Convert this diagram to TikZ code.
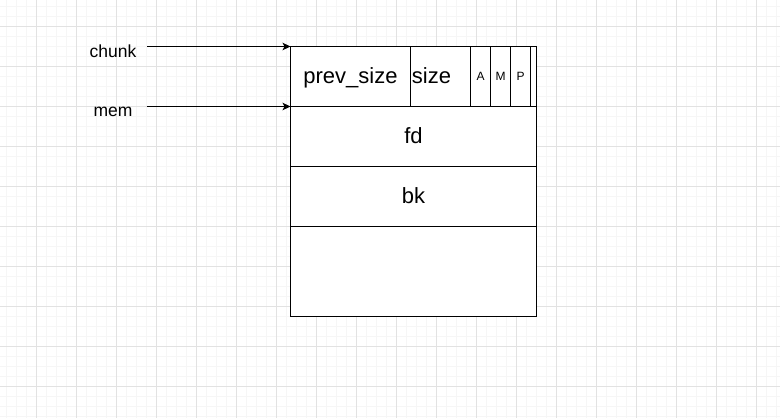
\documentclass[tikz,border=0pt]{standalone}
\usepackage{fontspec}
\setmainfont{Liberation Sans}
\usetikzlibrary{arrows.meta}
\definecolor{gridminor}{HTML}{F6F6F6}
\definecolor{gridmajor}{HTML}{E2E2E2}
\begin{document}
\begin{tikzpicture}[x=1pt,y=-1pt,
  minorline/.style={draw=gridminor,line width=0.8pt},
  majorline/.style={draw=gridmajor,line width=0.8pt},
  cell/.style={draw=black,fill=white,line width=1pt,anchor=north west,inner sep=0pt,outer sep=0pt,
    minimum width=#1},
  big/.style={font=\fontsize{22}{24}\selectfont,text height=17pt,text depth=2.5pt},
  tiny/.style={font=\fontsize{12}{14}\selectfont,text height=9.5pt,text depth=2pt},
  lbl/.style={font=\fontsize{17.5}{20}\selectfont,inner sep=0pt,text height=13pt,text depth=4.5pt},
  ptr/.style={line width=1pt,-{Stealth[length=8pt,width=7.5pt,inset=2pt]}}]
\useasboundingbox (0,0) rectangle (780,418);
\fill[white] (0,0) rectangle (780,418);
% grid
\foreach \x in {6.5,16.5,...,776.5} \draw[minorline] (\x,0) -- (\x,418);
\foreach \y in {6.5,16.5,...,416.5} \draw[minorline] (0,\y) -- (780,\y);
\foreach \x in {36.5,76.5,...,756.5} \draw[majorline] (\x,0) -- (\x,418);
\foreach \y in {26.5,66.5,...,386.5} \draw[majorline] (0,\y) -- (780,\y);
% chunk cells
\node[cell=120pt,minimum height=60pt,big] (prev) at (290.5,46.5) {prev\_size};
\node[cell=60pt,minimum height=60pt] (size) at (410.5,46.5) {};
\node[big,inner sep=0pt] (sizet) at (431.5,76.5) {size};
\node[cell=20pt,minimum height=60pt,tiny] (abit) at (470.5,46.5) {A};
\node[cell=20pt,minimum height=60pt,tiny] (mbit) at (490.5,46.5) {M};
\node[cell=20pt,minimum height=60pt,tiny] (pbit) at (510.5,46.5) {P};
\node[cell=6pt,minimum height=60pt] (rest) at (530.5,46.5) {};
\node[cell=246pt,minimum height=60pt,big] (fd) at (290.5,106.5) {fd};
\node[cell=246pt,minimum height=60pt,big] (bk) at (290.5,166.5) {bk};
\node[cell=246pt,minimum height=90pt] (data) at (290.5,226.5) {};
% labels and pointers
\node[lbl] (chunk) at (113,53.4) {chunk};
\node[lbl] (mem) at (113,111.8) {mem};
\coordinate (chunkstart) at (147,46.5);
\coordinate (memstart) at (147,106.5);
\draw[ptr] (chunkstart) -- (prev.north west);
\draw[ptr] (memstart) -- (prev.south west);
\end{tikzpicture}
\end{document}
